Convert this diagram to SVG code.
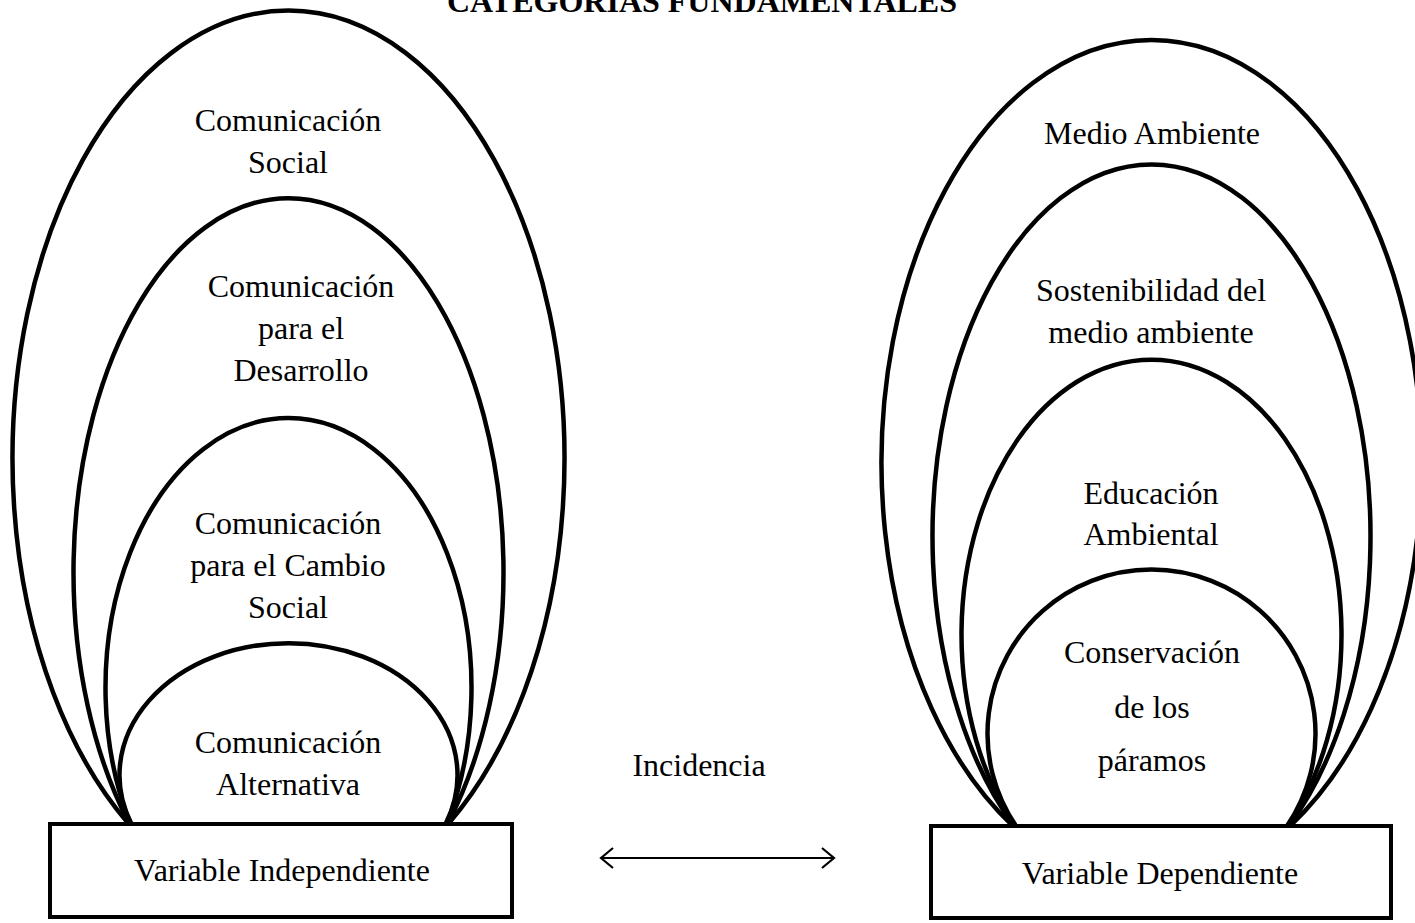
<svg xmlns="http://www.w3.org/2000/svg" width="1415" height="923" viewBox="0 0 1415 923">
<style>
.t{font-family:"Liberation Serif","Times New Roman",serif;font-size:32px;fill:#000;text-anchor:middle}
.title{font-family:"Liberation Serif","Times New Roman",serif;font-size:32px;font-weight:bold;fill:#000;text-anchor:middle}
.arc{fill:none;stroke:#000;stroke-width:4.5}
.box{fill:#fff;stroke:#000;stroke-width:4}
.conn{fill:none;stroke:#000;stroke-width:2.2}
</style>
<rect width="1415" height="923" fill="#fff"/>
<text class="title" x="702" y="12">CATEGORÍAS FUNDAMENTALES</text>

<g id="left-outer-comunicacion-social">
<path class="arc" d="M 128 823 A 276 448 0 1 1 449 823"/>
<text class="t" x="288" y="131">Comunicación</text>
<text class="t" x="288" y="173">Social</text>
</g>
<g id="left-comunicacion-desarrollo">
<path class="arc" d="M 129 823 A 215 374 0 1 1 448 823"/>
<text class="t" x="301" y="297">Comunicación</text>
<text class="t" x="301" y="339">para el</text>
<text class="t" x="301" y="381">Desarrollo</text>
</g>
<g id="left-comunicacion-cambio-social">
<path class="arc" d="M 130 823 A 183 270 0 1 1 447 823"/>
<text class="t" x="288" y="534">Comunicación</text>
<text class="t" x="288" y="576">para el Cambio</text>
<text class="t" x="288" y="618">Social</text>
</g>
<g id="left-comunicacion-alternativa">
<path class="arc" d="M 131 823 A 169 132 0 1 1 446 823"/>
<text class="t" x="288" y="753">Comunicación</text>
<text class="t" x="288" y="795">Alternativa</text>
</g>
<g id="variable-independiente">
<rect class="box" x="50" y="824" width="462" height="93"/>
<text class="t" x="282" y="881">Variable Independiente</text>
</g>

<g id="right-medio-ambiente">
<path class="arc" d="M 1013 826 A 270 423 0 1 1 1290 826"/>
<text class="t" x="1152" y="144">Medio Ambiente</text>
</g>
<g id="right-sostenibilidad">
<path class="arc" d="M 1014 826 A 219 372 0 1 1 1289 826"/>
<text class="t" x="1151" y="301">Sostenibilidad del</text>
<text class="t" x="1151" y="343">medio ambiente</text>
</g>
<g id="right-educacion-ambiental">
<path class="arc" d="M 1015 826 A 190 275 0 1 1 1288 826"/>
<text class="t" x="1151" y="504">Educación</text>
<text class="t" x="1151" y="545">Ambiental</text>
</g>
<g id="right-conservacion-paramos">
<path class="arc" d="M 1016 826 A 164 164 0 1 1 1287 826"/>
<text class="t" x="1152" y="663">Conservación</text>
<text class="t" x="1152" y="718">de los</text>
<text class="t" x="1152" y="771">páramos</text>
</g>
<g id="variable-dependiente">
<rect class="box" x="931" y="826" width="460" height="92"/>
<text class="t" x="1160" y="884">Variable Dependiente</text>
</g>

<g id="incidencia-label">
<text class="t" x="699" y="776">Incidencia</text>
</g>
<g id="connectors">
<line class="conn" x1="601" y1="858" x2="834" y2="858"/>
<polyline class="conn" points="613,848 601,858 613,868"/>
<polyline class="conn" points="822,848 834,858 822,868"/>
</g>
</svg>
